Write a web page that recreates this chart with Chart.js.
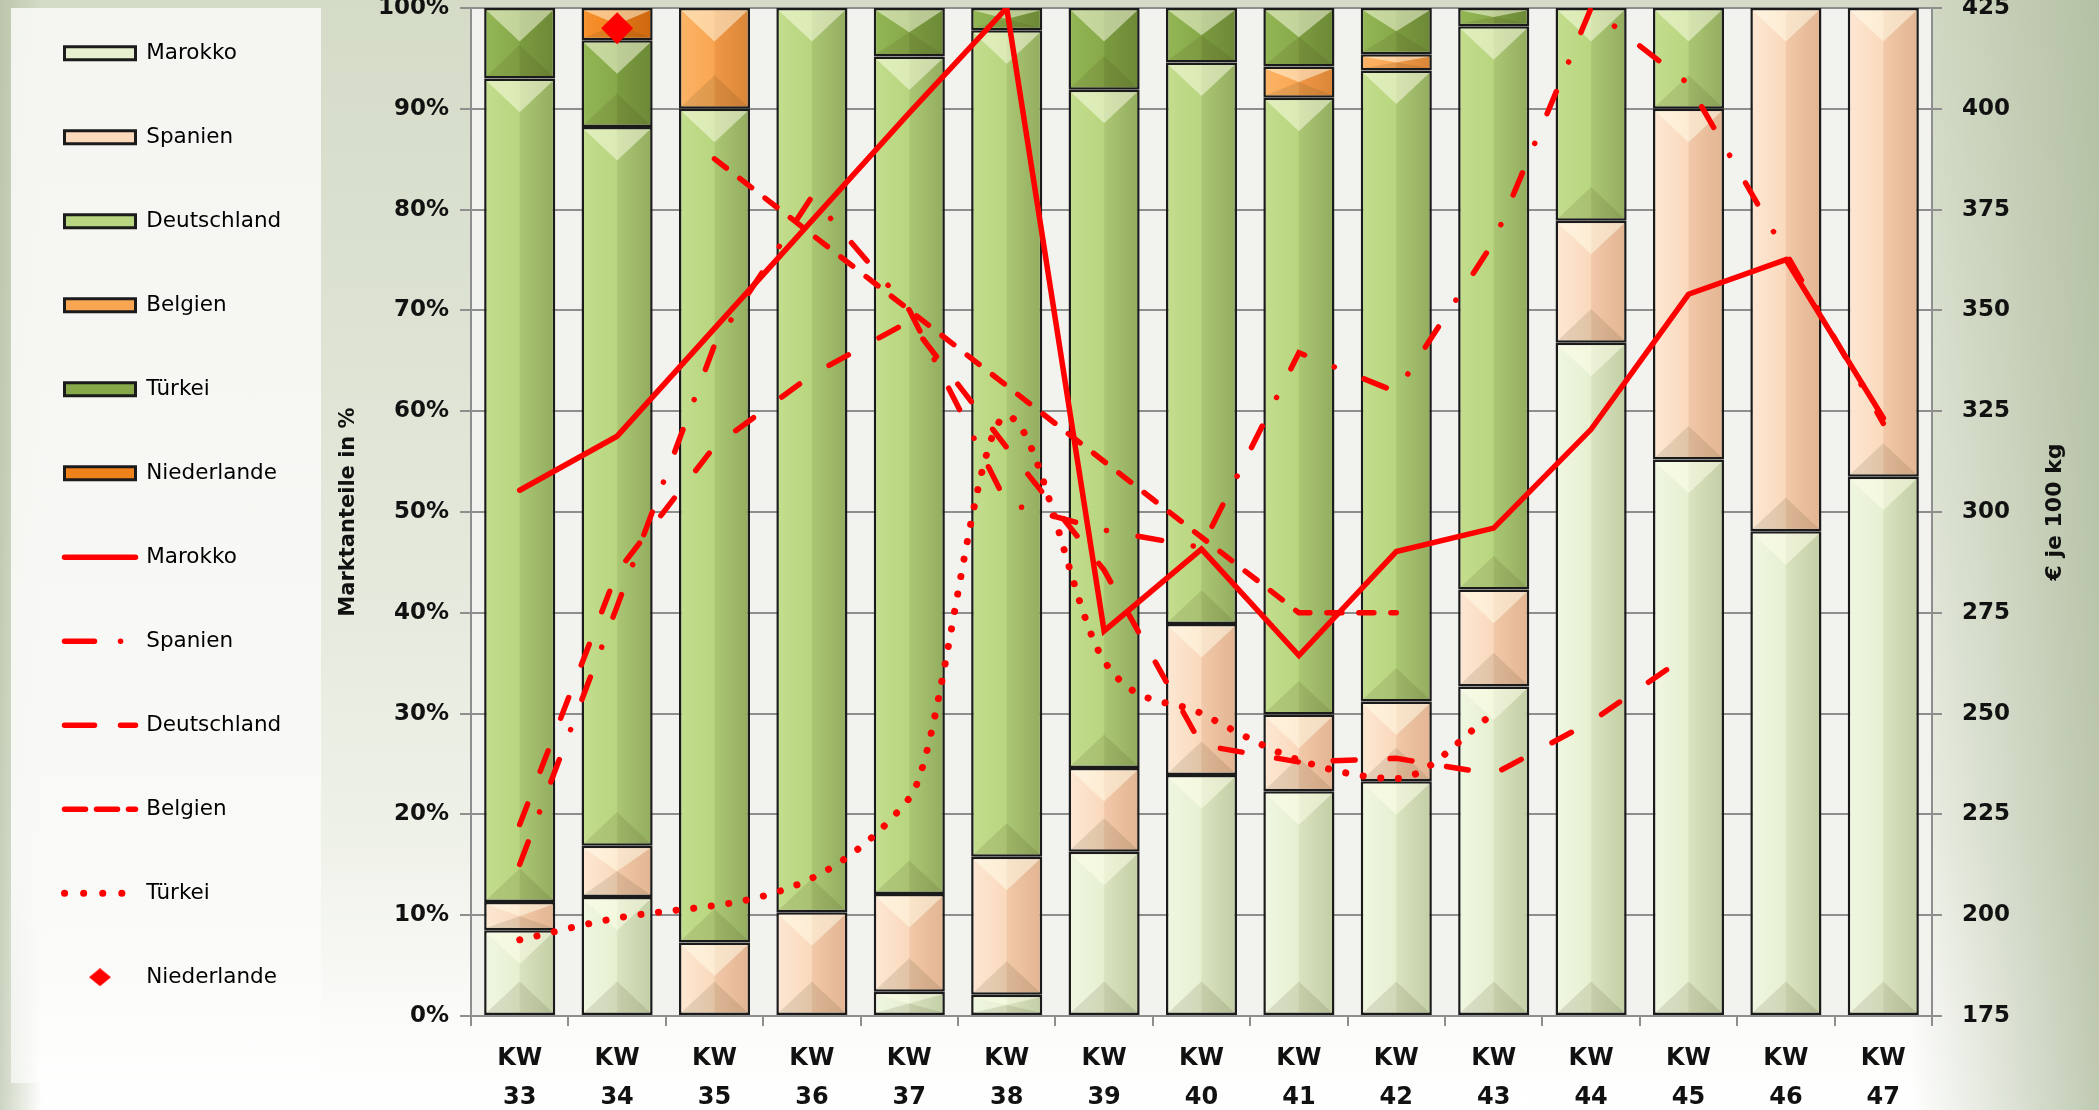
<!DOCTYPE html>
<html>
<head>
<meta charset="utf-8">
<script src="https://cdn.jsdelivr.net/npm/chart.js@4.4.1/dist/chart.umd.min.js"></script>
<style>
  html, body { margin: 0; padding: 0; }
  body {
    width: 2099px; height: 1110px; overflow: hidden; position: relative;
    background:
      linear-gradient(to right, rgba(170,184,152,0.6) 0, rgba(170,184,152,0) 2%, rgba(0,0,0,0) 91%, rgba(170,184,152,0.75) 100%),
      linear-gradient(to bottom, #d4dbc7 0%, #e2e7d9 45%, #eef1e8 75%, #fbfbf9 92%, #ffffff 100%);
  }
  #panel {
    position: absolute; left: 11px; top: 8px; width: 310px; height: 1075px;
    background: linear-gradient(to bottom, rgba(247,248,244,0.92) 0%, rgba(250,250,248,0.95) 80%, rgba(255,255,255,0.6) 100%);
  }
  #chart { position: absolute; left: 0; top: 0; }
</style>
</head>
<body>
<div id="panel"></div>
<canvas id="chart" width="2099" height="1110"></canvas>
<script>
// Kalenderwochen
const weeks = ['33', '34', '35', '36', '37', '38', '39', '40', '41', '42', '43', '44', '45', '46', '47'];

// Marktanteile in % (gestapelt)
const shareMarokko     = [8.5, 11.8, null, null, 2.4, 2.1, 16.3, 23.9, 22.3, 23.3, 32.7, 66.8, 55.2, 48.1, 53.5];
const shareSpanien     = [2.8, 5.1, 7.3, 10.3, 9.7, 13.7, 8.3, 15.0, 7.6, 7.9, 9.6, 12.1, 34.8, 51.9, 46.5];
const shareDeutschland = [81.7, 71.3, 82.7, 89.7, 83.1, 82.0, 67.3, 55.7, 61.2, 62.6, 55.9, 21.1, 10.0, null, null];
const shareBelgien     = [null, null, 10.0, null, null, null, null, null, 3.1, 1.6, null, null, null, null, null];
const shareTuerkei     = [7.0, 8.6, null, null, 4.8, 2.2, 8.1, 5.4, 5.8, 4.6, 1.8, null, null, null, null];
const shareNiederlande = [null, 3.2, null, null, null, null, null, null, null, null, null, null, null, null, null];

// Preise in € je 100 kg
const priceMarokko     = [305.4, 318.8, null, null, 399, 425, 270.5, 290.8, 264.4, 290.2, 296.0, 320.5, 354.0, 362.6, 323.3];
const priceSpanien     = [212.6, 276.6, 341.4, 378.2, 350.1, 302.2, 295.5, 291.2, 339.5, 329.8, 367.0, 425.0, 406.2, 364.2, 322.0];
const priceDeutschland = [222.5, 285.1, 316.3, 334.0, 347.3, 316.0, 285.6, 242.2, 238.0, 238.9, 235.0, 248.0, 264.6, null, null];
const priceBelgien     = [null, null, 387.6, null, null, null, null, null, 275.0, 275.0, null, null, null, null, null];
const priceTuerkei     = [193.9, 199.3, null, null, 229.0, 323.8, 263.1, 250.0, 238.5, 233.9, 250.0, null, null, null, null];
const priceNiederlande = [null, 420.0, null, null, null, null, null, null, null, null, null, null, null, null, null];

const shareTicks = [0, 10, 20, 30, 40, 50, 60, 70, 80, 90, 100];
const priceTicks = [175, 200, 225, 250, 275, 300, 325, 350, 375, 400, 425];
const leftTitle = 'Marktanteile in %';
const rightTitle = '€ je 100 kg';

// layout
const PLOT_LEFT = 471, PLOT_RIGHT = 1932, PLOT_TOP = 8, PLOT_BOTTOM = 1016;
const BAR_PCT = 0.73;
const FONT = 'DejaVu Sans';
const RED = '#ff0000';
const GRID = '#8e8e8e';

// bar fills: left, mid-left, mid-right, right
const fillMarokko     = ['#f0f7e2', '#e6f0d1', '#d9e3c0', '#c2cea4'];
const fillSpanien     = ['#fde8d4', '#fad9bd', '#f1c8a8', '#e2b492'];
const fillDeutschland = ['#c3de8e', '#b8d57f', '#aac673', '#93ac5f'];
const fillBelgien     = ['#fcb466', '#f9a653', '#ef9746', '#d98537'];
const fillTuerkei     = ['#94b756', '#87a949', '#7b9b40', '#6c8836'];
const fillNiederlande = ['#f6922f', '#f0821c', '#e27614', '#cc6810'];

function barGradient(stops) {
  return (c) => {
    const chart = c.chart;
    const area = chart.chartArea;
    if (!area || c.type !== 'data') return stops[1];
    const cx = chart.scales.x.getPixelForValue(c.dataIndex);
    const half = (area.right - area.left) / weeks.length * BAR_PCT / 2;
    const g = chart.ctx.createLinearGradient(cx - half, 0, cx + half, 0);
    g.addColorStop(0, stops[0]);
    g.addColorStop(0.49, stops[1]);
    g.addColorStop(0.51, stops[2]);
    g.addColorStop(1, stops[3]);
    return g;
  };
}

function barSet(label, data, stops) {
  return {
    type: 'bar', label, data, yAxisID: 'y', stack: 'share', order: 1,
    backgroundColor: barGradient(stops), legendFill: stops[1],
    borderColor: '#1b1b1b', borderWidth: 2.5, borderSkipped: false,
    barPercentage: BAR_PCT, categoryPercentage: 1
  };
}

function lineSet(label, data, dash, width, legendDash, extra) {
  return Object.assign({
    type: 'line', label, data, yAxisID: 'y2', order: 0,
    borderColor: RED, backgroundColor: RED, borderWidth: width, borderDash: dash,
    borderCapStyle: 'round', pointRadius: 0, spanGaps: true, tension: 0, fill: false,
    legendDash
  }, extra || {});
}

function diamondIcon(w, h) {
  const c = document.createElement('canvas');
  c.width = w; c.height = h;
  const g = c.getContext('2d');
  g.fillStyle = RED;
  g.beginPath();
  g.moveTo(w / 2, 0); g.lineTo(w, h / 2); g.lineTo(w / 2, h); g.lineTo(0, h / 2);
  g.closePath(); g.fill();
  return c;
}

const datasets = [
  barSet('Marokko', shareMarokko, fillMarokko),
  barSet('Spanien', shareSpanien, fillSpanien),
  barSet('Deutschland', shareDeutschland, fillDeutschland),
  barSet('Belgien', shareBelgien, fillBelgien),
  barSet('Türkei', shareTuerkei, fillTuerkei),
  barSet('Niederlande', shareNiederlande, fillNiederlande),
  lineSet('Marokko', priceMarokko, [], 5.5, []),
  lineSet('Spanien', priceSpanien, [24, 32, 0.1, 32], 5.5, [30, 26, 0.1, 100]),
  lineSet('Deutschland', priceDeutschland, [22, 35], 5.5, [30, 26]),
  lineSet('Belgien', priceBelgien, [15, 17], 5.5, [21, 11]),
  lineSet('Türkei', priceTuerkei, [0.1, 17.6], 7, [0.1, 19], { cubicInterpolationMode: 'monotone' }),
  {
    type: 'line', label: 'Niederlande', data: priceNiederlande, yAxisID: 'y2', order: 0,
    showLine: false, pointStyle: 'rectRot',
    // only the one real point gets a marker, so no extra layout padding is reserved
    pointRadius: c => (priceNiederlande[c.dataIndex] == null ? 0 : 16),
    pointBackgroundColor: RED, pointBorderWidth: 0, borderColor: RED, backgroundColor: RED
  }
];

const legendDiamond = diamondIcon(22, 18);

// plot background
const plotBackground = {
  id: 'plotBackground',
  beforeDraw(chart) {
    const { ctx, chartArea: a } = chart;
    ctx.save();
    ctx.fillStyle = '#f2f2ee';
    ctx.fillRect(a.left, a.top, a.right - a.left, a.bottom - a.top);
    ctx.restore();
  }
};

// pyramid bevel on every bar segment
const bevel = {
  id: 'bevel',
  afterDatasetDraw(chart, args) {
    const ds = chart.data.datasets[args.index];
    if (ds.type !== 'bar') return;
    const ctx = chart.ctx;
    ctx.save();
    args.meta.data.forEach(bar => {
      const { x, y, base, width } = bar.getProps(['x', 'y', 'base', 'width'], true);
      const h = base - y;
      if (!(h > 3)) return;
      const bw = 2.5;
      const L = x - width / 2 + bw, R = x + width / 2 - bw, T = y + bw, B = base - bw;
      const d = Math.min((R - L) * 0.47, (B - T) / 2);
      ctx.fillStyle = 'rgba(255,255,235,0.5)';
      ctx.beginPath(); ctx.moveTo(L, T); ctx.lineTo(R, T); ctx.lineTo(x, T + d); ctx.closePath(); ctx.fill();
      ctx.fillStyle = 'rgba(70,60,20,0.13)';
      ctx.beginPath(); ctx.moveTo(L, B); ctx.lineTo(R, B); ctx.lineTo(x, B - d); ctx.closePath(); ctx.fill();
    });
    ctx.restore();
  }
};

// move legend column up a little
const legendShift = {
  id: 'legendShift',
  afterLayout(chart) {
    if (chart.legend) { chart.legend.top -= 28; chart.legend.bottom -= 28; }
  }
};

// right axis title, reading bottom to top like the left one
const rightAxisTitle = {
  id: 'rightAxisTitle',
  afterDraw(chart) {
    const { ctx, chartArea: a } = chart;
    const s = chart.scales.y2;
    ctx.save();
    ctx.translate(s.right - 44, (a.top + a.bottom) / 2);
    ctx.rotate(-Math.PI / 2);
    ctx.font = 'bold 22px "' + FONT + '"';
    ctx.fillStyle = '#111';
    ctx.textAlign = 'center';
    ctx.textBaseline = 'middle';
    ctx.fillText(rightTitle, 0, 0);
    ctx.restore();
  }
};

const tickFont = { family: FONT, size: 23, weight: 'bold' };

new Chart(document.getElementById('chart'), {
  type: 'bar',
  data: { labels: weeks.map(w => ['KW', w]), datasets },
  options: {
    responsive: false,
    animation: false,
    events: [],
    layout: { padding: { left: 2, top: PLOT_TOP, right: 0, bottom: 0 } },
    plugins: {
      tooltip: { enabled: false },
      legend: {
        position: 'left',
        align: 'start',
        maxWidth: 330,
        labels: {
          usePointStyle: true,
          pointStyleWidth: 71,
          boxHeight: 13,
          padding: 62.5,
          color: '#1a1a1a',
          font: { family: FONT, size: 21.5 },
          generateLabels(chart) {
            return chart.data.datasets.map((ds, i) => {
              if (ds.type === 'bar') {
                return { text: ds.label, datasetIndex: i, pointStyle: 'rect',
                  fillStyle: ds.legendFill, strokeStyle: '#1b1b1b', lineWidth: 3, hidden: false };
              }
              if (ds.showLine === false) {
                return { text: ds.label, datasetIndex: i, pointStyle: legendDiamond,
                  fillStyle: RED, strokeStyle: RED, lineWidth: 0, hidden: false };
              }
              return { text: ds.label, datasetIndex: i, pointStyle: 'line',
                fillStyle: RED, strokeStyle: RED, lineWidth: ds.borderWidth, lineCap: 'round',
                lineDash: ds.legendDash, lineDashOffset: 0, hidden: false };
            });
          }
        }
      }
    },
    scales: {
      x: {
        stacked: true,
        offset: true,
        grid: { display: true, drawOnChartArea: false, offset: true, tickLength: 10, color: GRID, lineWidth: 2 },
        border: { color: GRID, width: 2 },
        ticks: { font: { family: FONT, size: 24, weight: 'bold', lineHeight: 1.6 }, color: '#111',
          padding: 14, maxRotation: 0, autoSkip: false },
        afterFit(s) { s.height = 1110 - PLOT_BOTTOM; s.paddingLeft = 0; s.paddingRight = 0; }
      },
      y: {
        stacked: true,
        position: 'left',
        min: shareTicks[0], max: shareTicks[shareTicks.length - 1],
        afterBuildTicks(s) { s.ticks = shareTicks.map(v => ({ value: v })); },
        ticks: { callback: v => v + '%', font: tickFont, color: '#111', padding: 11 },
        grid: { color: GRID, lineWidth: 2, tickLength: 11 },
        border: { color: GRID, width: 2 },
        title: { display: true, text: leftTitle, color: '#111',
          font: { family: FONT, size: 21, weight: 'bold' }, padding: { top: 45, bottom: 0 } },
        afterFit(s) {
          const lw = s.chart.legend && s.chart.legend.width ? s.chart.legend.width : 330;
          s.width = PLOT_LEFT - lw - 2;
          s.paddingTop = 0; s.paddingBottom = 0;
        }
      },
      y2: {
        position: 'right',
        min: priceTicks[0], max: priceTicks[priceTicks.length - 1],
        afterBuildTicks(s) { s.ticks = priceTicks.map(v => ({ value: v })); },
        ticks: { font: tickFont, color: '#111', padding: 20 },
        grid: { drawOnChartArea: false, tickLength: 10, color: GRID, lineWidth: 2 },
        border: { color: GRID, width: 2 },
        afterFit(s) { s.width = 2099 - PLOT_RIGHT; s.paddingTop = 0; s.paddingBottom = 0; }
      }
    }
  },
  plugins: [plotBackground, bevel, legendShift, rightAxisTitle]
});
</script>
</body>
</html>
